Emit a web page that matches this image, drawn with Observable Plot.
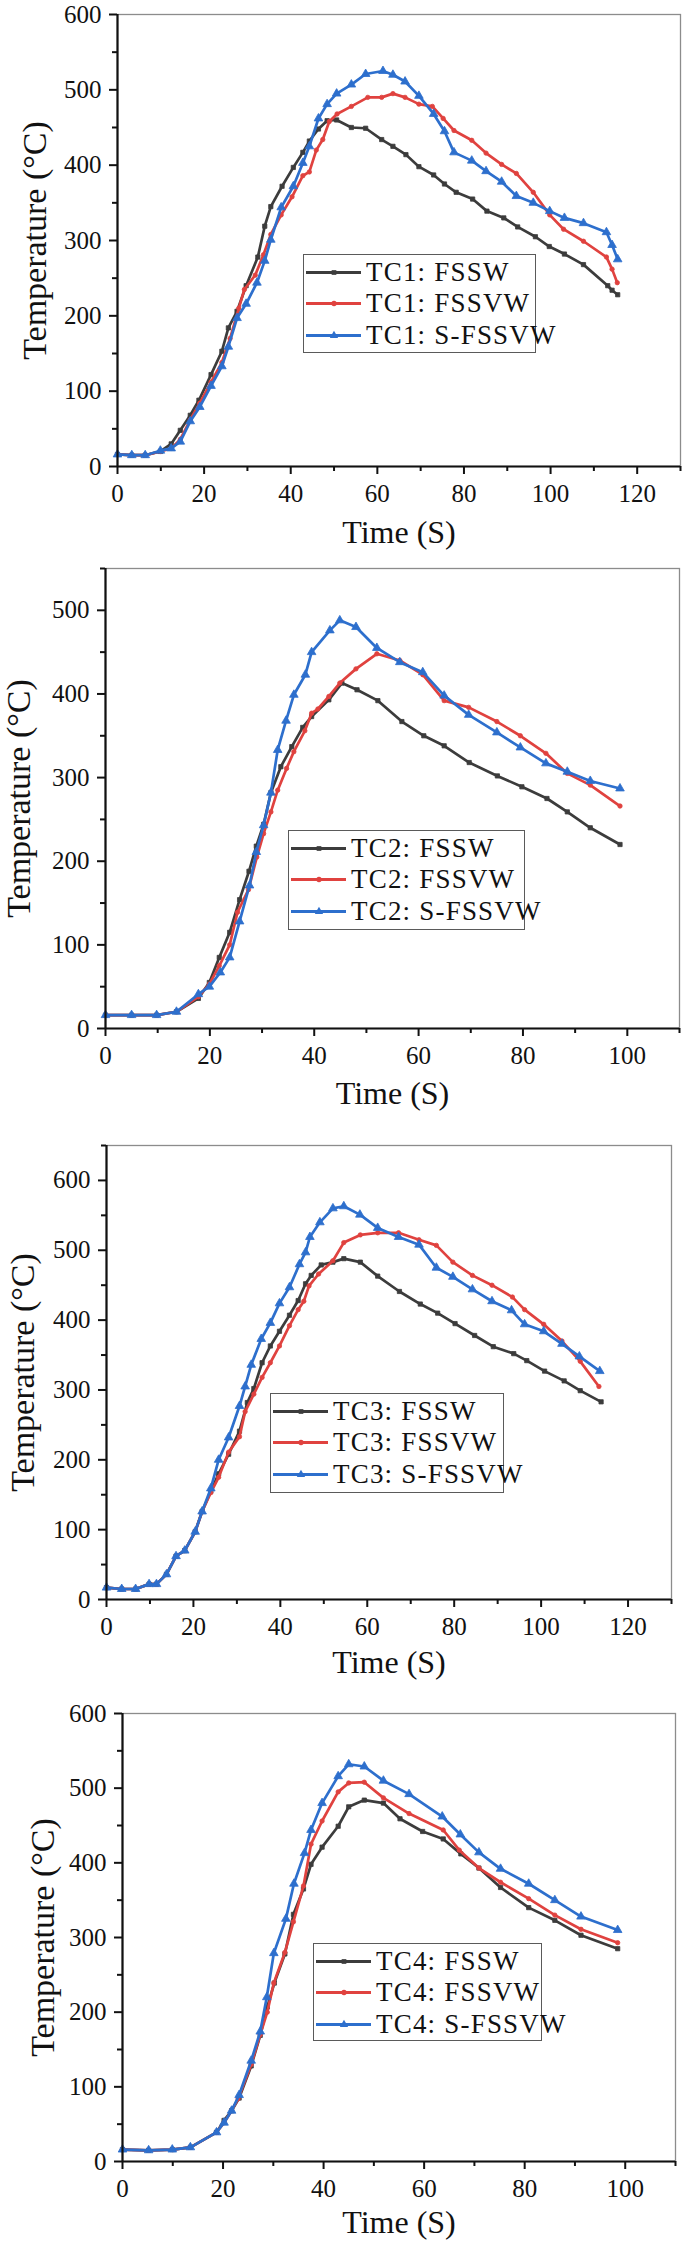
<!DOCTYPE html>
<html>
<head>
<meta charset="utf-8">
<script src="https://cdn.jsdelivr.net/npm/d3@7"></script>
<script src="https://cdn.jsdelivr.net/npm/@observablehq/plot@0.6"></script>
<style>
  body { margin: 0; background: #fff; }
  #root { position: relative; width: 685px; height: 2245px; overflow: hidden; font-family: "Liberation Serif", "Times New Roman", serif; color: #111; }
  .panel { position: absolute; left: 0; }
  .legend { position: absolute; border: 1.5px solid #5a5a5a; background: #fff; box-sizing: border-box; }
  .legend .row { position: absolute; left: 0; height: 31px; display: flex; align-items: center; }
  .legend .row span { font-size: 27px; line-height: 31px; letter-spacing: 1.2px; margin-left: 3px; white-space: nowrap; }
</style>
</head>
<body>
<div id="root"></div>
<script>
// ---------------- data ----------------
const SERIES = ["FSSW", "FSSVW", "S-FSSVW"];
const COLORS = ["#3c3c3c", "#e0423f", "#2d6fcd"];
const SYMBOLS = ["square", "circle", "triangle"];

// TC1
const tc1_fssw_t = [0,3.3,6.4,9.9,12.4,14.5,16.8,18.8,21.6,24.1,25.6,27.6,29.7,32.4,34,35.4,38,40.6,42.8,44.3,46.4,48.4,50.6,54,57.3,61,63.6,66.6,69.6,73,75.5,78.2,82,85.3,89.2,92.4,96.5,99.7,103.2,107.6,113.2,114.2,115.5];
const tc1_fssw_v = [16,15,15,20,30,48,68,88,122,153,184,206,240,278,319,345,372,397,417,432,448,459,460,450,449,434,425,414,398,387,375,364,355,339,330,318,305,292,282,268,240,234,228];
const tc1_fssvw_t = [0,3.3,6.4,9.9,12.4,14.5,16.8,19,21.6,24.1,26,28,29.3,31.8,33.7,35.4,37.8,40.3,42.8,44.3,45.9,47.4,48.9,50.7,54,57.8,61,63.6,66.4,69.6,72.7,75.2,77.7,81.8,85.1,88.7,92.1,96,99.8,103,107.6,112.9,114.2,115.4];
const tc1_fssvw_v = [16,15,15,20,24,36,62,84,112,138,170,210,235,254,281,308,334,358,386,391,420,434,458,468,478,490,490,495,490,481,478,462,446,433,416,401,389,364,334,315,299,278,262,244];
const tc1_sfssvw_t = [0,3.3,6.4,9.9,12.4,14.5,16.8,19,21.6,24.1,25.6,27.6,29.7,32.2,34,35.4,37.8,40.6,42.8,44.3,46.4,48.4,50.6,54,57.3,61.3,63.6,66.4,69.6,73,75.5,77.7,81.8,85.1,88.7,92.1,96,99.8,103.2,107.6,112.9,114.2,115.5];
const tc1_sfssvw_v = [16,15,15,21,24,33,60,79,107,133,159,197,216,244,273,301,344,372,403,425,462,481,495,507,521,525,520,511,492,468,445,417,406,392,378,359,350,339,330,323,311,294,275];

// TC2
const tc2_fssw_t = [0,5,9.8,13.6,17.8,19.9,21.8,23.8,25.7,27.5,28.9,30.3,31.7,33.6,35.7,37.8,39.5,42.8,45.3,48.2,52.2,56.8,61,64.9,69.7,75.1,79.8,84.6,88.5,92.9,98.6];
const tc2_fssw_v = [16,16,16,20,36,55,85,115,154,188,218,244,282,313,337,360,373,393,413,405,392,367,350,338,318,302,289,275,259,240,220];
const tc2_fssvw_t = [0,5,9.8,13.6,17.8,19.9,21.8,23.8,25.3,27.4,29,30.3,31.7,33,34.7,36.1,38.2,39.5,40.7,42.8,44.9,48,52,56.4,60.8,64.9,69.6,75,79.5,84.4,88.5,92.9,98.6];
const tc2_fssvw_v = [16,16,16,20,38,53,75,100,139,166,205,233,259,285,311,331,356,377,382,397,413,430,448,440,423,392,384,367,350,329,305,291,266];
const tc2_sfssvw_t = [0,5,9.8,13.6,17.8,19.9,22,23.8,25.7,27.6,28.9,30.3,31.7,33,34.6,36.1,38.3,39.5,43,44.9,48,52,56.4,60.8,64.9,69.6,75,79.5,84.4,88.5,92.9,98.6];
const tc2_sfssvw_v = [16,16,16,20,41,50,67,85,128,171,211,243,282,333,368,399,423,450,476,488,480,455,438,426,398,375,354,336,317,307,296,287];

// TC3
const tc3_fssw_t = [0,3.5,6.7,9.8,11.5,13.8,16,18,20.4,22,24,25.8,28.1,30.6,32.4,33.9,35.8,37.7,39.8,42.1,44.1,45.8,47.1,49.4,52.1,54.6,58.4,62.4,67.4,72.2,76.2,80.2,84.7,89,93.7,96.7,100.8,105.3,109,113.8];
const tc3_fssw_v = [17,15,15,22,22,36,62,70,97,126,155,180,208,241,282,302,339,363,384,407,428,452,464,479,483,488,483,463,441,423,410,395,378,362,352,342,327,313,299,283];
const tc3_fssvw_t = [0,3.5,6.7,9.8,11.5,13.8,16,18,20.4,22,24,25.8,28.1,30.6,31.9,33.9,35.8,37.7,39.8,42.1,44.1,45.4,46.6,48.8,52.1,54.6,58.4,62.4,67.2,71.9,75.9,79.7,84.2,88.7,93.4,96.2,100.6,104.8,109,113.3];
const tc3_fssvw_v = [17,15,15,22,22,36,62,70,97,126,153,175,211,233,269,294,318,339,363,392,415,427,449,466,485,511,522,525,525,515,507,483,464,450,433,415,394,370,341,305];
const tc3_sfssvw_t = [0,3.5,6.7,9.8,11.5,13.8,16,18,20.4,22,24,25.8,28.1,30.6,31.9,33.3,35.6,37.7,39.8,42.1,44.4,45.8,46.8,49.1,52.1,54.6,58.3,62.4,67.2,71.9,75.9,79.7,84.2,88.7,93.2,96.2,100.6,104.8,108.8,113.5];
const tc3_sfssvw_v = [17,15,15,22,22,36,62,70,97,126,159,200,232,277,305,336,373,396,424,447,480,497,519,540,560,563,551,532,519,508,475,462,444,427,414,394,384,366,348,327];

// TC4
const tc4_fssw_t = [0,5.2,9.9,13.5,18.7,20.2,21.7,23.2,25.6,27.4,28.8,30.2,32.3,34,36,37.5,39.7,42.9,45,48.1,51.9,55.2,59.7,63.8,67.3,70.9,75.2,80.8,86,91.2,98.5];
const tc4_fssw_v = [16,15,16,19,39,55,68,85,128,169,207,239,278,331,365,398,421,449,475,484,480,459,442,432,412,393,367,340,323,303,285];
const tc4_fssvw_t = [0,5.2,9.9,13.5,18.7,20.2,21.7,23,25.6,27.4,28.8,30.1,32.3,34,36,37.5,39.7,42.9,45,48.1,51.9,57,63.8,67,70.9,75.2,80.8,86,91.2,98.5];
const tc4_fssvw_v = [16,15,16,19,39,52,68,84,130,170,200,239,280,321,369,425,456,495,507,508,487,466,444,417,393,374,352,330,311,293];
const tc4_sfssvw_t = [0,5.2,9.9,13.5,18.7,20.2,21.7,23.2,25.6,27.4,28.7,30.1,32.5,34.1,36.2,37.5,39.7,42.9,45,48.1,51.9,57,63.6,67.2,70.9,75.2,80.8,86,91.2,98.5];
const tc4_sfssvw_v = [16,15,16,19,39,52,68,89,135,174,220,279,325,372,413,444,480,516,532,529,510,492,462,438,414,392,372,350,328,310];

// ticks
const xTicks130 = [0,20,40,60,80,100,120];
const xMinor130 = [10,30,50,70,90,110,130];
const xTicks110 = [0,20,40,60,80,100];
const xMinor110 = [10,30,50,70,90,110];
const yTicks600 = [0,100,200,300,400,500,600];
const yMinor600 = [50,150,250,350,450,550];
const yTicks550 = [0,100,200,300,400,500];
const yMinor550 = [50,150,250,350,450,550];
const yTicks650 = [0,100,200,300,400,500,600];
const yMinor650 = [50,150,250,350,450,550,650];

const X_TITLE = "Time (S)";
const Y_TITLE = "Temperature (°C)";

// ---------------- layout ----------------
const panels = [
  { tc: "TC1", top: 0, height: 560, mt: 14, mb: 94, ml: 117, mr: 5,
    xDomain: [0,130], yDomain: [0,600], xT: xTicks130, xM: xMinor130, yT: yTicks600, yM: yMinor600,
    xTitleDy: 66, yTitleDx: 82,
    legend: { left: 303, top: 254, width: 233, height: 99 },
    series: [[tc1_fssw_t, tc1_fssw_v], [tc1_fssvw_t, tc1_fssvw_v], [tc1_sfssvw_t, tc1_sfssvw_v]] },
  { tc: "TC2", top: 560, height: 560, mt: 8, mb: 92, ml: 105, mr: 6,
    xDomain: [0,110], yDomain: [0,550], xT: xTicks110, xM: xMinor110, yT: yTicks550, yM: yMinor550,
    xTitleDy: 65, yTitleDx: 86,
    legend: { left: 288, top: 830, width: 237, height: 100 },
    series: [[tc2_fssw_t, tc2_fssw_v], [tc2_fssvw_t, tc2_fssvw_v], [tc2_sfssvw_t, tc2_sfssvw_v]] },
  { tc: "TC3", top: 1120, height: 560, mt: 25, mb: 81, ml: 106, mr: 14,
    xDomain: [0,130], yDomain: [0,650], xT: xTicks130, xM: xMinor130, yT: yTicks650, yM: yMinor650,
    xTitleDy: 63, yTitleDx: 83,
    legend: { left: 270, top: 1393, width: 234, height: 100 },
    series: [[tc3_fssw_t, tc3_fssw_v], [tc3_fssvw_t, tc3_fssvw_v], [tc3_sfssvw_t, tc3_sfssvw_v]] },
  { tc: "TC4", top: 1680, height: 565, mt: 33, mb: 84, ml: 122, mr: 10,
    xDomain: [0,110], yDomain: [0,600], xT: xTicks110, xM: xMinor110, yT: yTicks600, yM: yMinor600,
    xTitleDy: 61, yTitleDx: 79,
    legend: { left: 313, top: 1943, width: 229, height: 98 },
    series: [[tc4_fssw_t, tc4_fssw_v], [tc4_fssvw_t, tc4_fssvw_v], [tc4_sfssvw_t, tc4_sfssvw_v]] }
];

const root = document.getElementById("root");
const DOT_R = [2.4, 2.2, 3.2];

for (const p of panels) {
  const rows = [];
  p.series.forEach(([ts, vs], i) => ts.forEach((t, j) => rows.push({ t, v: vs[j], s: SERIES[i] })));

  const marks = [
    Plot.frame({ stroke: "#8c8c8c", strokeWidth: 1.3 }),
    Plot.axisX(p.xM, { tickSize: 5, tickFormat: () => "", strokeWidth: 2, color: "#111", label: null }),
    Plot.axisX(p.xT, { tickSize: 8, tickPadding: 10, fontSize: 25, strokeWidth: 2, color: "#111", label: null, tickFormat: d3.format("d") }),
    Plot.axisY(p.yM, { tickSize: 5, tickFormat: () => "", strokeWidth: 2, color: "#111", label: null }),
    Plot.axisY(p.yT, { tickSize: 8, tickPadding: 8, fontSize: 25, strokeWidth: 2, color: "#111", label: null, tickFormat: d3.format("d") }),
  ];
  SERIES.forEach((s, i) => {
    const d = rows.filter(r => r.s === s);
    marks.push(Plot.line(d, { x: "t", y: "v", stroke: COLORS[i], strokeWidth: 2.7, strokeLinejoin: "round" }));
    marks.push(Plot.dot(d, { x: "t", y: "v", symbol: () => SYMBOLS[i], r: DOT_R[i], fill: COLORS[i], stroke: COLORS[i], strokeWidth: 0.8 }));
  });
  marks.push(
    Plot.ruleY([p.yDomain[0]], { stroke: "#111", strokeWidth: 2.2 }),
    Plot.ruleX([p.xDomain[0]], { stroke: "#111", strokeWidth: 2.2 }),
    Plot.text([X_TITLE], { text: d => d, frameAnchor: "bottom", dy: p.xTitleDy, fontSize: 32, textAnchor: "middle", lineAnchor: "middle", fill: "#111" }),
    Plot.text([Y_TITLE], { text: d => d, frameAnchor: "left", dx: -p.yTitleDx, rotate: -90, fontSize: 34, textAnchor: "middle", lineAnchor: "middle", fill: "#111" })
  );

  const chart = Plot.plot({
    width: 685,
    height: p.height,
    marginTop: p.mt,
    marginBottom: p.mb,
    marginLeft: p.ml,
    marginRight: p.mr,
    x: { domain: p.xDomain, axis: null },
    y: { domain: p.yDomain, axis: null },
    style: { fontFamily: "'Liberation Serif', 'Times New Roman', serif", fontSize: "25px", color: "#111", background: "transparent", overflow: "visible" },
    marks
  });
  const wrap = document.createElement("div");
  wrap.className = "panel";
  wrap.style.top = p.top + "px";
  wrap.appendChild(chart);
  root.appendChild(wrap);

  // legend
  const lg = document.createElement("div");
  lg.className = "legend";
  Object.assign(lg.style, { left: p.legend.left + "px", top: p.legend.top + "px", width: p.legend.width + "px", height: p.legend.height + "px" });
  SERIES.forEach((s, i) => {
    const row = document.createElement("div");
    row.className = "row";
    row.style.top = (1.5 + i * 31.5) + "px";
    const svg = d3.create("svg").attr("width", 57).attr("height", 31).style("margin-left", "2px");
    svg.append("line").attr("x1", 0).attr("x2", 55).attr("y1", 15.5).attr("y2", 15.5).attr("stroke", COLORS[i]).attr("stroke-width", 3);
    const sym = d3.symbol().type(SYMBOLS[i] === "square" ? d3.symbolSquare : SYMBOLS[i] === "circle" ? d3.symbolCircle : d3.symbolTriangle).size(SYMBOLS[i] === "triangle" ? 30 : 22);
    svg.append("path").attr("d", sym()).attr("transform", "translate(28,15.5)").attr("fill", COLORS[i]);
    row.appendChild(svg.node());
    const sp = document.createElement("span");
    sp.textContent = p.tc + ": " + s;
    row.appendChild(sp);
    lg.appendChild(row);
  });
  root.appendChild(lg);
}
</script>
</body>
</html>
